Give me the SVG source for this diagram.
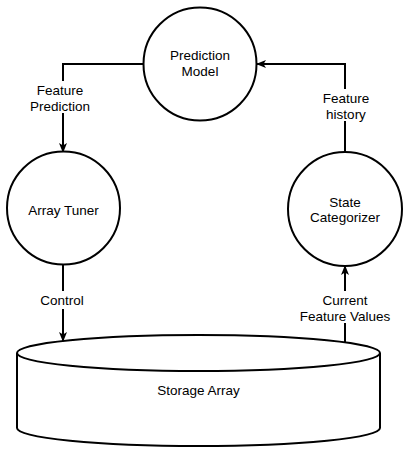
<svg xmlns="http://www.w3.org/2000/svg" width="408" height="450" viewBox="0 0 408 450">
<style>
.n{fill:#fff;stroke:#000;stroke-width:2}
.c{fill:none;stroke:#000;stroke-width:2}
text{font-family:"Liberation Sans",Arial,sans-serif;font-size:13.5px;fill:#000;text-anchor:middle}
.lbl{fill:#fff;stroke:none}
</style>
<defs>
<marker id="ah" viewBox="0 0 10 10" refX="9" refY="5" markerWidth="10" markerHeight="10" markerUnits="userSpaceOnUse" orient="auto">
<path d="M0,1 L10,5 L0,9 L2.5,5 Z" fill="#000"/>
</marker>
</defs>
<g id="storage">
<path class="n" d="M17,353 L17,428 A181.5,18 0 0 0 380,428 L380,353"/>
<ellipse class="n" cx="198.5" cy="353" rx="181.5" ry="18"/>
<text x="198.5" y="395">Storage Array</text>
</g>
<g id="connectors">
<path class="c" d="M143,64 L63,64 L63,152" marker-end="url(#ah)"/>
<path class="c" d="M345,152 L345,64 L257,64" marker-end="url(#ah)"/>
<path class="c" d="M63,265 L63,341" marker-end="url(#ah)"/>
<path class="c" d="M345,342 L345,266" marker-end="url(#ah)"/>
<rect class="lbl" x="12" y="81" width="96" height="32"/>
<text x="60" y="95">Feature</text>
<text x="60" y="111">Prediction</text>
<rect class="lbl" x="308" y="89" width="76" height="32"/>
<text x="346" y="103">Feature</text>
<text x="346" y="119">history</text>
<rect class="lbl" x="32" y="291" width="62" height="18"/>
<text x="62" y="305">Control</text>
<rect class="lbl" x="296" y="291" width="98" height="32"/>
<text x="345" y="305">Current</text>
<text x="345" y="321">Feature Values</text>
</g>
<g id="prediction-model">
<circle class="n" cx="200" cy="64" r="56.5"/>
<text x="200" y="60">Prediction</text>
<text x="200" y="76">Model</text>
</g>
<g id="array-tuner">
<circle class="n" cx="63.5" cy="208" r="56.5"/>
<text x="63.5" y="215">Array Tuner</text>
</g>
<g id="state-categorizer">
<circle class="n" cx="345" cy="209" r="57"/>
<text x="345" y="207">State</text>
<text x="345" y="222">Categorizer</text>
</g>
</svg>
